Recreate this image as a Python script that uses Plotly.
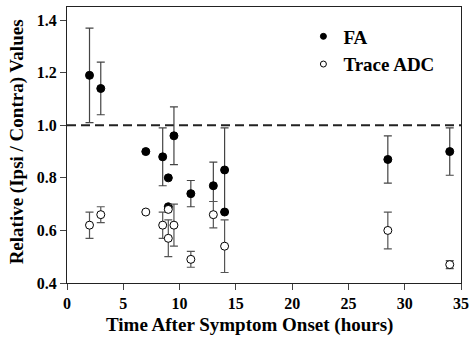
import plotly.graph_objects as go

# FA data
fa_x = [2, 3, 7, 8.5, 9, 9, 9.5, 11, 13, 14, 14, 28.5, 34]
fa_y = [1.19, 1.14, 0.90, 0.88, 0.80, 0.69, 0.96, 0.74, 0.77, 0.83, 0.67, 0.87, 0.90]
fa_err_plus = [0.18, 0.10, 0, 0.11, 0, 0, 0.11, 0.05, 0.09, 0.16, 0, 0.09, 0.09]
fa_err_minus = [0.18, 0.10, 0, 0.11, 0, 0, 0.11, 0.05, 0.06, 0.16, 0, 0.09, 0.09]

# Trace ADC data
adc_x = [2, 3, 7, 8.5, 9, 9, 9.5, 11, 13, 14, 28.5, 34]
adc_y = [0.62, 0.66, 0.67, 0.62, 0.68, 0.57, 0.62, 0.49, 0.66, 0.54, 0.60, 0.47]
adc_err_plus = [0.05, 0.03, 0, 0.05, 0, 0.07, 0.08, 0.03, 0.05, 0.10, 0.07, 0.015]
adc_err_minus = [0.05, 0.03, 0, 0.05, 0, 0.07, 0.08, 0.03, 0.05, 0.10, 0.07, 0.015]

x_ticks = [0, 5, 10, 15, 20, 25, 30, 35]
y_ticks = [0.4, 0.6, 0.8, 1.0, 1.2, 1.4]
y_tick_text = ["0.4", "0.6", "0.8", "1.0", "1.2", "1.4"]
reference_level = 1.0

FONT = "Liberation Serif"

fig = go.Figure()

fig.add_shape(type="line", xref="x", yref="y", x0=0, x1=35,
              y0=reference_level, y1=reference_level,
              line=dict(color="#222", width=2, dash="9px,5px"), layer="below")

fig.add_trace(go.Scatter(
    x=fa_x, y=fa_y, mode="markers", name="FA", showlegend=False,
    marker=dict(symbol="circle", size=8, color="black", line=dict(color="black", width=1)),
    error_y=dict(type="data", symmetric=False, array=fa_err_plus, arrayminus=fa_err_minus,
                 color="#444", thickness=1.2, width=4),
))
fig.add_trace(go.Scatter(
    x=adc_x, y=adc_y, mode="markers", name="Trace ADC", showlegend=False,
    marker=dict(symbol="circle", size=8, color="white", line=dict(color="black", width=1)),
    error_y=dict(type="data", symmetric=False, array=adc_err_plus, arrayminus=adc_err_minus,
                 color="#555", thickness=1.2, width=4),
))
# legend-only entries (smaller symbols, as in the reference legend)
fig.add_trace(go.Scatter(x=[None], y=[None], mode="markers", name="<b>FA</b>",
                         marker=dict(symbol="circle", size=6, color="black",
                                     line=dict(color="black", width=1))))
fig.add_trace(go.Scatter(x=[None], y=[None], mode="markers", name="<b>Trace ADC</b>",
                         marker=dict(symbol="circle", size=6, color="white",
                                     line=dict(color="black", width=1))))

fig.update_layout(
    width=469, height=343,
    margin=dict(l=67, r=8, t=7, b=60),
    paper_bgcolor="white", plot_bgcolor="white",
    font=dict(family=FONT, size=16, color="black"),
    showlegend=True,
    legend=dict(x=0.6, y=0.962, xanchor="left", yanchor="top",
                bgcolor="rgba(0,0,0,0)",
                font=dict(family=FONT, size=19, color="black"),
                itemsizing="trace"),
    annotations=[
        dict(text="<b>Time After Symptom Onset (hours)</b>", xref="paper", yref="paper",
             x=0.462, y=-0.152, xanchor="center", yanchor="middle", showarrow=False,
             font=dict(family=FONT, size=19, color="black")),
        dict(text="<b>Relative (Ipsi / Contra) Values</b>", xref="paper", yref="paper",
             x=-0.127, y=0.513, xanchor="center", yanchor="middle", showarrow=False,
             textangle=-90, font=dict(family=FONT, size=19, color="black")),
    ],
)
fig.update_xaxes(range=[0, 35], tickvals=x_ticks, ticks="outside", ticklen=6,
                 showline=True, linecolor="#222", linewidth=1, mirror=True,
                 showgrid=False, zeroline=False, automargin=False,
                 ticklabeloverflow="allow",
                 tickfont=dict(family=FONT, size=16, color="black", weight="bold"))
fig.update_yaxes(range=[0.4, 1.45], tickvals=y_ticks, ticktext=y_tick_text,
                 ticks="outside", ticklen=6,
                 showline=True, linecolor="#222", linewidth=1, mirror=True,
                 showgrid=False, zeroline=False, automargin=False,
                 tickfont=dict(family=FONT, size=16, color="black", weight="bold"))

fig.write_html("out.html", config={"displayModeBar": False},
               post_script="document.body.style.margin='0';document.body.style.overflow='hidden';")
